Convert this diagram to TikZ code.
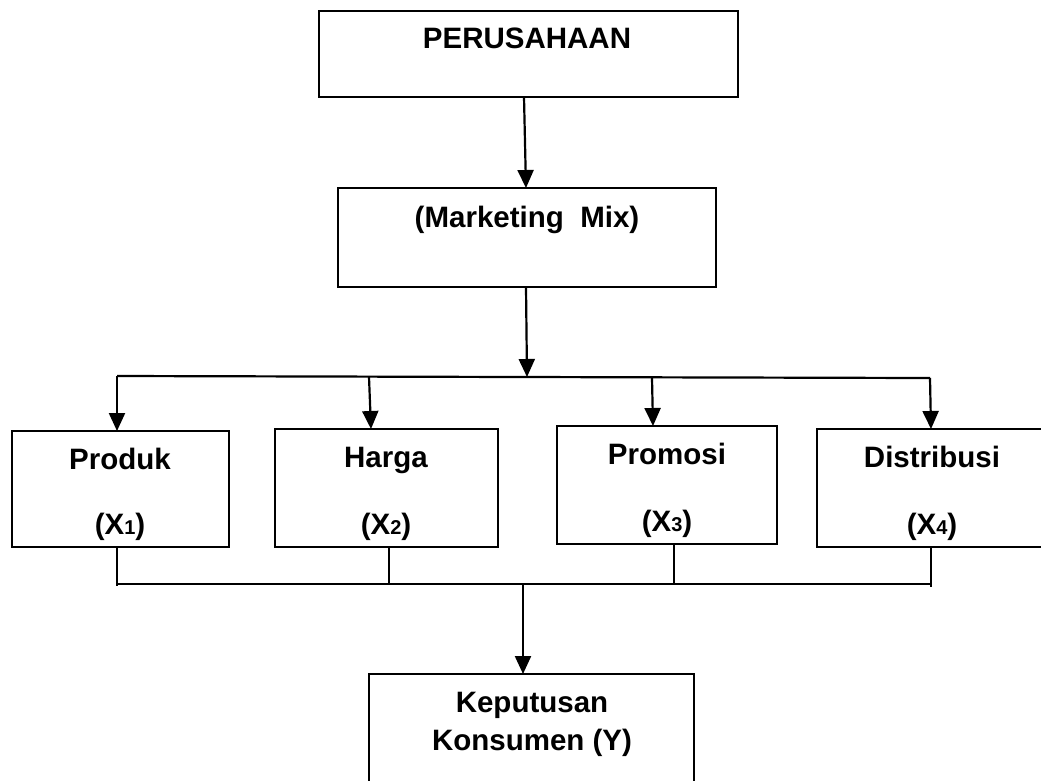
\documentclass[tikz,border=0pt]{standalone}
\usepackage{fontspec}
\setmainfont{Liberation Sans}
\usetikzlibrary{arrows.meta,calc}
\tikzset{
  box/.style={draw, line width=2.2pt, anchor=north west, inner sep=0pt, outer sep=0pt},
  lbl/.style={anchor=base, inner sep=0pt, font=\fontsize{29.5}{31}\selectfont\bfseries},
  conn/.style={line width=2.2pt},
  arr/.style={line width=2.2pt, -{Triangle[length=18pt,width=16pt]}},
}
\newcommand{\sbs}[1]{{\fontsize{20}{20}\selectfont #1}}
\begin{document}
\begin{tikzpicture}[x=1pt,y=-1pt]
\useasboundingbox (0,0) rectangle (1041,780);
\clip (0,0) rectangle (1041,780);
\fill[white] (0,0) rectangle (1041,780);
% boxes
\node[box, minimum width=419pt, minimum height=86pt] (P) at (319,11) {};
\node[box, minimum width=378pt, minimum height=99pt] (M) at (338,188) {};
\node[box, minimum width=217pt, minimum height=116pt] (B1) at (12,431) {};
\node[box, minimum width=223pt, minimum height=118pt] (B2) at (275,429) {};
\node[box, minimum width=220pt, minimum height=118pt] (B3) at (557,426) {};
\node[box, minimum width=240pt, minimum height=118pt] (B4) at (817,429) {};
\node[box, minimum width=325pt, minimum height=130pt] (K) at (369,674) {};
% labels
\node[lbl] (tP) at (527,48) {PERUSAHAAN};
\node[lbl] (tM) at (527,227) {(Marketing\ \ Mix)};
\node[lbl] (t1a) at (120,469) {Produk};
\node[lbl] (t1b) at (120,534) {(X\sbs{1})};
\node[lbl] (t2a) at (386,467) {Harga};
\node[lbl] (t2b) at (386,534) {(X\sbs{2})};
\node[lbl] (t3a) at (667,464) {Promosi};
\node[lbl] (t3b) at (667,531) {(X\sbs{3})};
\node[lbl] (t4a) at (932,467) {Distribusi};
\node[lbl] (t4b) at (932,534) {(X\sbs{4})};
\node[lbl] (tKa) at (532,712) {Keputusan};
\node[lbl] (tKb) at (532,750) {Konsumen (Y)};
% upper connectors
\coordinate (a1) at (524,97);
\coordinate (a2) at (526,188);
\draw[arr] (a1) -- (a2);
\coordinate (m1) at (526,287);
\coordinate (bus) at (527,377);
\draw[arr] (m1) -- (bus);
\coordinate (uL) at (117,376);
\coordinate (uR) at (930,378);
\draw[conn] (uL) -- (uR);
\coordinate (u1) at (117,376);
\coordinate (u2) at (369,377);
\coordinate (u3) at (652,378);
\coordinate (u4) at (930,378);
\draw[arr] (u1) -- (B1.north -| u1);
\draw[arr] (u2) -- ($(B2.north -| u2)+(2,0)$);
\draw[arr] (u3) -- ($(B3.north -| u3)+(1,0)$);
\draw[arr] (u4) -- ($(B4.north -| u4)+(1,0)$);
% lower connectors
\coordinate (d1) at (117,586);
\coordinate (d2) at (389,584);
\coordinate (d3) at (674,584);
\coordinate (d4) at (931,587);
\draw[conn] (B1.south -| d1) -- (d1);
\draw[conn] (B2.south -| d2) -- (d2);
\draw[conn] (B3.south -| d3) -- (d3);
\draw[conn] (B4.south -| d4) -- (d4);
\coordinate (lL) at (117,584);
\coordinate (lR) at (931,584);
\draw[conn] (lL) -- (lR);
\coordinate (k0) at (523,584);
\draw[arr] (k0) -- (K.north -| k0);
\end{tikzpicture}
\end{document}
